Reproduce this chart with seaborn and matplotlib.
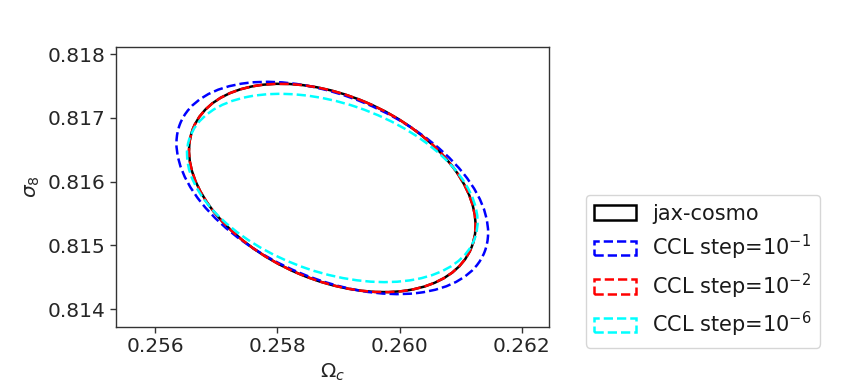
import numpy as np
import matplotlib
matplotlib.use("Agg")
import matplotlib.pyplot as plt
from matplotlib.patches import Ellipse
import seaborn as sns

# Data: Fisher-forecast contours (center shared, half-extents and correlation per series)
labels = ["jax-cosmo", "CCL step=$10^{-1}$", "CCL step=$10^{-2}$", "CCL step=$10^{-6}$"]
colors = ["black", "blue", "red", "cyan"]
styles = ["-", "--", "--", "--"]
center_omega_c = 0.2589
center_sigma8 = 0.8159
half_omega_c = [0.002344, 0.002549, 0.002344, 0.002377]
half_sigma8 = [0.001633, 0.001664, 0.001633, 0.001476]
rho = [-0.36, -0.42, -0.36, -0.36]

xticks = [0.256, 0.258, 0.260, 0.262]
yticks = [0.814, 0.815, 0.816, 0.817, 0.818]

sns.set_theme(style="ticks")
plt.rcParams["font.family"] = ["DejaVu Sans"]

fig = plt.figure(figsize=(8.52, 3.9), dpi=100)
ax = fig.add_axes([0.136, 0.1615, 0.508, 0.718])

handles = []
for lab, c, ls, a, b, r in zip(labels, colors, styles, half_omega_c, half_sigma8, rho):
    cov = np.array([[a * a, r * a * b], [r * a * b, b * b]])
    vals, vecs = np.linalg.eigh(cov)
    order = vals.argsort()[::-1]
    vals, vecs = vals[order], vecs[:, order]
    angle = np.degrees(np.arctan2(vecs[1, 0], vecs[0, 0]))
    e = Ellipse((center_omega_c, center_sigma8), 2 * np.sqrt(vals[0]), 2 * np.sqrt(vals[1]),
                angle=angle, fill=False, edgecolor=c, linestyle=ls, linewidth=1.8, label=lab)
    ax.add_patch(e)
    handles.append(e)

ax.set_xlim(0.25536, 0.26244)
ax.set_ylim(0.81372, 0.81811)
ax.set_xticks(xticks)
ax.set_yticks(yticks)
ax.set_xticklabels([f"{t:.3f}" for t in xticks])
ax.set_yticklabels([f"{t:.3f}" for t in yticks])
ax.tick_params(labelsize=14.5, length=4, width=1, color="#333333", labelcolor="#262626")
for s in ax.spines.values():
    s.set_color("#333333")
    s.set_linewidth(1.0)
ax.set_xlabel(r"$\Omega_c$", fontsize=14.5, color="#262626")
ax.set_ylabel(r"$\sigma_8$", fontsize=14.5, color="#262626")

leg = fig.legend(handles=handles, loc="lower left", bbox_to_anchor=(0.675, 0.082),
                 fontsize=15, frameon=True, handlelength=2.0, labelspacing=0.45,
                 borderpad=0.4)
leg.get_frame().set_edgecolor("#cccccc")
for t in leg.get_texts():
    t.set_color("#1a1a1a")

fig.savefig("out.png", dpi=100)
